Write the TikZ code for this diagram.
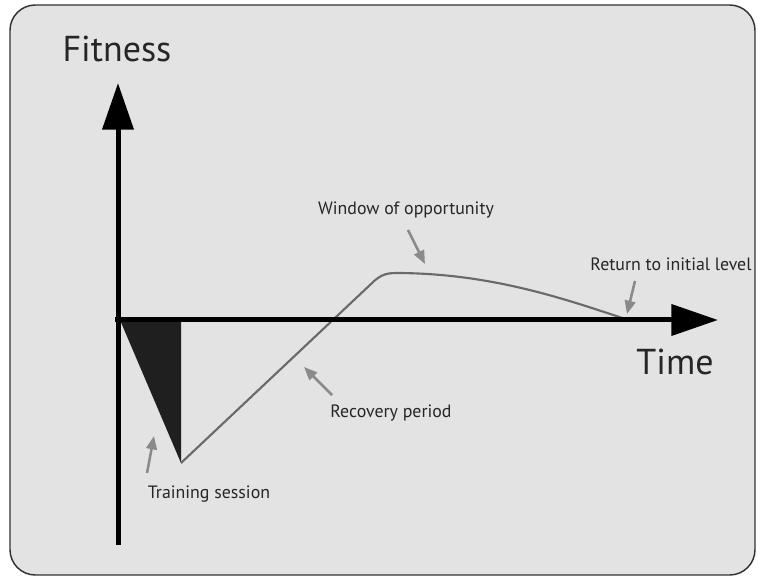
\documentclass[tikz,border=0pt]{standalone}
\usepackage{fontspec}
\setmainfont{PT Sans}
\usetikzlibrary{arrows.meta}
\definecolor{panel}{HTML}{E3E3E3}
\definecolor{curvegray}{HTML}{6A6A6A}
\definecolor{pointgray}{HTML}{8A8A8A}
\tikzset{
	axis/.style={line width=3.75pt, -{Triangle[length=35pt,width=23pt]}},
	pointer/.style={pointgray, line width=1.9pt, -{Triangle[length=10pt,width=8pt]}},
	lbl/.style={font=\fontsize{13.4}{15}\selectfont, text=black!85, inner sep=0pt}
}
\begin{document}
\begin{tikzpicture}[x=0.75pt, y=-0.75pt]
	\useasboundingbox (0,0) rectangle (758,577);
	\draw[fill=panel, draw=black!80, line width=1.1pt, rounded corners=19pt] (10,5) rectangle (755,575);
	\coordinate (o) at (118,320);
	\coordinate (ybot) at (118,545);
	\coordinate (ytop) at (118,83);
	\coordinate (xend) at (718,320);
	\coordinate (drop) at (181,463);
	\coordinate (rise) at (371,284);
	\coordinate (peak) at (400,273);
	\coordinate (back) at (628,320);
	% training load
	\fill[black!88] (120,320) -- (181,320) -- (drop) -- cycle;
	\draw[curvegray, line width=1.6pt, line join=round] (drop) -- (rise) .. controls (382,273) and (388,273) .. (peak) .. controls (490,274) and (560,297) .. (back);
	\draw[axis] (ybot) -- (ytop);
	\draw[axis] ([xshift=-1.9pt]o) -- (xend);
	\node[inner sep=0pt, font=\fontsize{27}{30}\selectfont, text=black!85, anchor=base] (fit) at (117,62) {Fitness};
	\node[inner sep=0pt, font=\fontsize{27}{30}\selectfont, text=black!85, anchor=base] (time) at (675,375) {Time};
	\node[lbl, anchor=base] (win) at (406,215) {Window of opportunity};
	\node[lbl, anchor=base] (ret) at (671,271) {Return to initial level};
	\node[lbl, anchor=base] (rec) at (391,418) {Recovery period};
	\node[lbl, anchor=base] (tra) at (209,499) {Training session};
	\coordinate (wt) at (408,230);
	\coordinate (wh) at (425,264);
	\coordinate (rt) at (635,281);
	\coordinate (rh) at (627,314);
	\coordinate (ct) at (332,395);
	\coordinate (ch) at (304,367);
	\coordinate (tt) at (147,473);
	\coordinate (th) at (154,436);
	\draw[pointer] (wt) -- (wh);
	\draw[pointer] (rt) -- (rh);
	\draw[pointer] (ct) -- (ch);
	\draw[pointer] (tt) -- (th);
\end{tikzpicture}
\end{document}
